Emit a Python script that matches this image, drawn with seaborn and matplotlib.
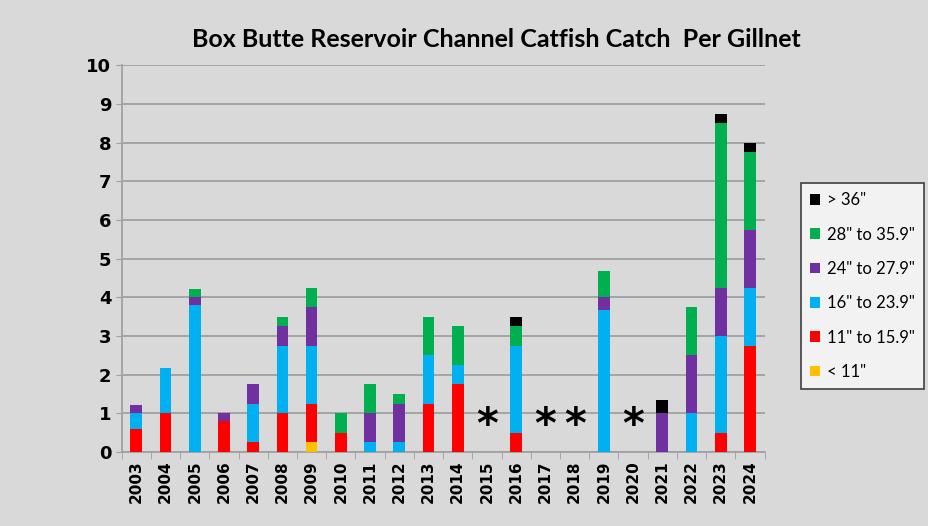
import numpy as np
import pandas as pd
import seaborn as sns
import matplotlib.pyplot as plt
from matplotlib.patches import Patch

# Dados (peixes por rede, por classe de tamanho)
years = ['2003', '2004', '2005', '2006', '2007', '2008', '2009', '2010', '2011', '2012',
         '2013', '2014', '2015', '2016', '2017', '2018', '2019', '2020', '2021', '2022',
         '2023', '2024']
under_11 = [0, 0, 0, 0, 0, 0, 0.25, 0, 0, 0, 0, 0, 0, 0, 0, 0, 0, 0, 0, 0, 0, 0]
in_11_16 = [0.6, 1.0, 0, 0.8, 0.25, 1.0, 1.0, 0.5, 0, 0, 1.25, 1.75, 0, 0.5, 0, 0, 0, 0, 0, 0, 0.5, 2.75]
in_16_24 = [0.4, 1.17, 3.8, 0, 1.0, 1.75, 1.5, 0, 0.25, 0.25, 1.25, 0.5, 0, 2.25, 0, 0, 3.67, 0, 0, 1.0, 2.5, 1.5]
in_24_28 = [0.2, 0, 0.2, 0.2, 0.5, 0.5, 1.0, 0, 0.75, 1.0, 0, 0, 0, 0, 0, 0, 0.33, 0, 1.0, 1.5, 1.25, 1.5]
in_28_36 = [0, 0, 0.2, 0, 0, 0.25, 0.5, 0.5, 0.75, 0.25, 1.0, 1.0, 0, 0.5, 0, 0, 0.67, 0, 0, 1.25, 4.25, 2.0]
over_36 = [0, 0, 0, 0, 0, 0, 0, 0, 0, 0, 0, 0, 0, 0.25, 0, 0, 0, 0, 0.33, 0, 0.25, 0.25]
no_sample = ['2015', '2017', '2018', '2020']

classes = ['< 11"', '11" to 15.9"', '16" to 23.9"', '24" to 27.9"', '28" to 35.9"', '> 36"']
colors = ['#FFC000', '#FF0000', '#00B0F0', '#7030A0', '#00B050', '#000000']

df = pd.DataFrame({'ano': years, classes[0]: under_11, classes[1]: in_11_16,
                   classes[2]: in_16_24, classes[3]: in_24_28, classes[4]: in_28_36,
                   classes[5]: over_36})

fig = plt.figure(figsize=(9.29, 5.26), dpi=100, facecolor='#D9D9D9')
ax = fig.add_axes([0.131, 0.141, 0.692, 0.735])
ax.set_facecolor('#D9D9D9')

base = np.zeros(len(years))
for cls, cor in zip(classes, colors):
    sns.barplot(data=df, x='ano', y=cls, order=years, color=cor, bottom=base,
                width=0.4, saturation=1, ax=ax, zorder=3)
    base = base + df[cls].values

# Asteriscos para anos sem amostragem
for ano in no_sample:
    ax.text(years.index(ano), 0.12, '*', ha='center', va='bottom',
            fontsize=30, fontweight='bold', zorder=4)

ax.set_ylim(0, 10)
ax.set_xlim(-0.5, len(years) - 0.5)
ax.set_yticks(range(0, 11))
ax.yaxis.grid(True, color='#A0A0A0', linewidth=1.3, zorder=0)
ax.set_axisbelow(True)
ax.set_xlabel('')
ax.set_ylabel('')
ax.set_xticks(np.arange(len(years)))
ax.set_xticklabels(years, rotation=90, fontweight='bold', fontsize=11)
ax.set_xticks(np.arange(-0.5, len(years)), minor=True)
ax.tick_params(axis='x', which='major', length=0, pad=6)
ax.tick_params(axis='x', which='minor', length=5, color='#A0A0A0')
ax.tick_params(axis='y', length=4, color='#A0A0A0', labelsize=13)
for lbl in ax.get_yticklabels():
    lbl.set_fontweight('bold')
for s in ['top', 'right']:
    ax.spines[s].set_visible(False)
for s in ['left', 'bottom']:
    ax.spines[s].set_color('#A0A0A0')
    ax.spines[s].set_linewidth(1.3)

fig.text(0.534, 0.925, 'Box Butte Reservoir Channel Catfish Catch  Per Gillnet',
         ha='center', va='center', fontsize=18, fontweight='bold', family='Lato')

handles = [Patch(facecolor=c, edgecolor='none') for c in colors[::-1]]
leg = fig.legend(handles, classes[::-1], loc='upper left', bbox_to_anchor=(0.862, 0.652),
                 frameon=True, fancybox=False, edgecolor='#404040', facecolor='#F2F2F2',
                 prop={'family': 'Lato', 'size': 12}, labelspacing=1.1,
                 handlelength=0.6, handleheight=0.6, handletextpad=0.4,
                 borderpad=0.55, borderaxespad=0, framealpha=1)
leg.get_frame().set_linewidth(1.2)

plt.savefig('out.png', dpi=100, facecolor=fig.get_facecolor())
